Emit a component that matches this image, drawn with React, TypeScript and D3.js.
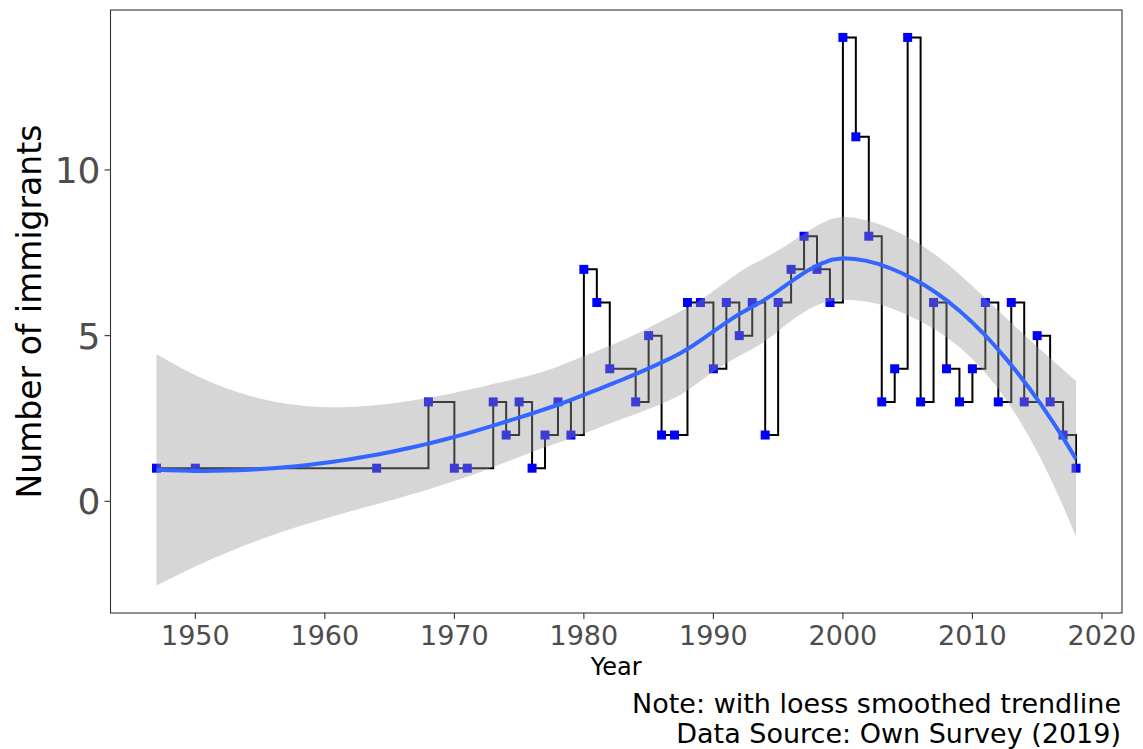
import React from "react";
import * as d3 from "d3";

// Immigration by year of arrival
const years = [
  1947, 1950, 1964, 1968, 1970, 1971, 1973, 1974, 1975, 1976,
  1977, 1978, 1979, 1980, 1981, 1982, 1984, 1985, 1986, 1987,
  1988, 1989, 1990, 1991, 1992, 1993, 1994, 1995, 1996, 1997,
  1998, 1999, 2000, 2001, 2002, 2003, 2004, 2005, 2006, 2007,
  2008, 2009, 2010, 2011, 2012, 2013, 2014, 2015, 2016, 2017,
  2018,
];
const immigrants = [
  1, 1, 1, 3, 1, 1, 3, 2, 3, 1,
  2, 3, 2, 7, 6, 4, 3, 5, 2, 2,
  6, 6, 4, 6, 5, 6, 2, 6, 7, 8,
  7, 6, 14, 11, 8, 3, 4, 14, 3, 6,
  4, 3, 4, 6, 3, 6, 3, 5, 3, 2,
  1,
];
const xTicks = [1950, 1960, 1970, 1980, 1990, 2000, 2010, 2020];
const yTicks = [0, 5, 10];

const W = 1143;
const H = 749;
const panel = { left: 110.5, right: 1122, top: 10, bottom: 613 };

// ---- loess: local quadratic fits (span 0.75, tricube weights) evaluated
// at kd-tree vertices and blended with cubic Hermite interpolation ----
const SPAN = 0.75;
const CELL = 0.2;

function inv3(m: number[][]): number[][] {
  const [a, b, c] = m[0];
  const [d, e, f] = m[1];
  const [g, h, i] = m[2];
  const A = e * i - f * h;
  const B = -(d * i - f * g);
  const C = d * h - e * g;
  const det = a * A + b * B + c * C;
  return [
    [A / det, -(b * i - c * h) / det, (b * f - c * e) / det],
    [B / det, (a * i - c * g) / det, -(a * f - c * d) / det],
    [C / det, -(a * h - b * g) / det, (a * e - b * d) / det],
  ];
}

// operator rows giving the local fit value and its slope at x0
function localRows(xs: number[], x0: number) {
  const n = xs.length;
  const q = Math.floor(n * SPAN);
  const dist = xs.map((x) => Math.abs(x - x0));
  const sorted = [...dist].sort((a, b) => a - b);
  const h = sorted[q - 1] * 1.0000001;
  const w = dist.map((d) => (d < h ? Math.pow(1 - Math.pow(d / h, 3), 3) : 0));
  const u = xs.map((x) => (x - x0) / h);
  const S = [0, 0, 0, 0, 0];
  for (let k = 0; k < n; k++) {
    let p = w[k];
    for (let j = 0; j < 5; j++) {
      S[j] += p;
      p *= u[k];
    }
  }
  const M = inv3([
    [S[0], S[1], S[2]],
    [S[1], S[2], S[3]],
    [S[2], S[3], S[4]],
  ]);
  const value = xs.map((_, k) => w[k] * (M[0][0] + M[0][1] * u[k] + M[0][2] * u[k] * u[k]));
  const slope = xs.map((_, k) => (w[k] * (M[1][0] + M[1][1] * u[k] + M[1][2] * u[k] * u[k])) / h);
  return { value, slope };
}

function kdVertices(xs: number[]): number[] {
  const sorted = [...xs].sort((a, b) => a - b);
  const n = sorted.length;
  const fc = Math.floor(n * SPAN * CELL);
  const lo = sorted[0];
  const hi = sorted[n - 1];
  const mu = 0.005 * (hi - lo);
  const verts = [lo - mu, hi + mu];
  const split = (l: number, u: number, vLo: number, vHi: number) => {
    if (u - l + 1 <= fc) return;
    const m = Math.floor((l + u) / 2);
    const xi = sorted[m];
    if (xi === vLo || xi === vHi) return;
    verts.push(xi);
    split(l, m, vLo, xi);
    split(m + 1, u, xi, vHi);
  };
  split(0, n - 1, lo - mu, hi + mu);
  return verts.sort((a, b) => a - b);
}

function makeOperator(xs: number[]) {
  const verts = kdVertices(xs);
  const rows = verts.map((v) => localRows(xs, v));
  return (x: number): number[] => {
    let i = d3.bisectRight(verts, x) - 1;
    i = Math.max(0, Math.min(verts.length - 2, i));
    const v0 = verts[i];
    const v1 = verts[i + 1];
    const dx = v1 - v0;
    const t = (x - v0) / dx;
    const phi0 = (1 - t) * (1 - t) * (1 + 2 * t);
    const phi1 = t * t * (3 - 2 * t);
    const psi0 = t * (1 - t) * (1 - t);
    const psi1 = -t * t * (1 - t);
    const a = rows[i];
    const b = rows[i + 1];
    return xs.map(
      (_, k) =>
        phi0 * a.value[k] + phi1 * b.value[k] + (psi0 * a.slope[k] + psi1 * b.slope[k]) * dx
    );
  };
}

function tQuantile975(df: number): number {
  const z = 1.959963985;
  const z3 = z ** 3, z5 = z ** 5, z7 = z ** 7, z9 = z ** 9;
  const g1 = (z3 + z) / 4;
  const g2 = (5 * z5 + 16 * z3 + 3 * z) / 96;
  const g3 = (3 * z7 + 19 * z5 + 17 * z3 - 15 * z) / 384;
  const g4 = (79 * z9 + 776 * z7 + 1482 * z5 - 1920 * z3 - 945 * z) / 92160;
  return z + g1 / df + g2 / df ** 2 + g3 / df ** 3 + g4 / df ** 4;
}

function loessBand(xs: number[], ys: number[], nOut = 80) {
  const n = xs.length;
  const op = makeOperator(xs);
  const L = xs.map((x) => op(x));
  const fitted = L.map((row) => d3.sum(row, (l, k) => l * ys[k]));
  const rss = d3.sum(ys, (y, k) => (y - fitted[k]) ** 2);
  // residual operator R = I - L, A = R^T R
  const R = L.map((row, i) => row.map((l, j) => (i === j ? 1 : 0) - l));
  let one = 0;
  let two = 0;
  for (let i = 0; i < n; i++) {
    for (let j = 0; j < n; j++) {
      let s = 0;
      for (let k = 0; k < n; k++) s += R[k][i] * R[k][j];
      if (i === j) one += s;
      two += s * s;
    }
  }
  const s = Math.sqrt(rss / one);
  const tq = tQuantile975((one * one) / two);
  const [lo, hi] = d3.extent(xs) as [number, number];
  return d3.range(nOut).map((i) => {
    const x = lo + ((hi - lo) * i) / (nOut - 1);
    const row = op(x);
    const y = d3.sum(row, (l, k) => l * ys[k]);
    const se = s * Math.sqrt(d3.sum(row, (l) => l * l));
    return { x, y, ymin: y - tq * se, ymax: y + tq * se };
  });
}

export default function App() {
  const band = loessBand(years, immigrants);
  const points = years.map((yr, i) => ({ yr, v: immigrants[i] }));

  const xMin = d3.min(years)!;
  const xMax = d3.max(years)!;
  const xPad = (xMax - xMin) * 0.05;
  const x = d3
    .scaleLinear()
    .domain([xMin - xPad, xMax + xPad])
    .range([panel.left, panel.right]);

  const yLo = Math.min(d3.min(immigrants)!, d3.min(band, (d) => d.ymin)!);
  const yHi = Math.max(d3.max(immigrants)!, d3.max(band, (d) => d.ymax)!);
  const yPad = (yHi - yLo) * 0.05;
  const y = d3
    .scaleLinear()
    .domain([yLo - yPad, yHi + yPad])
    .range([panel.bottom, panel.top]);

  const step = d3
    .line<{ yr: number; v: number }>()
    .x((d) => x(d.yr))
    .y((d) => y(d.v))
    .curve(d3.curveStepAfter);

  const ribbon = d3
    .area<{ x: number; ymin: number; ymax: number }>()
    .x((d) => x(d.x))
    .y0((d) => y(d.ymin))
    .y1((d) => y(d.ymax));

  const trend = d3
    .line<{ x: number; y: number }>()
    .x((d) => x(d.x))
    .y((d) => y(d.y));

  const font = "'DejaVu Sans', sans-serif";
  const sq = 9;

  return (
    <svg
      width={W}
      height={H}
      style={{ position: "absolute", left: 0, top: 0, display: "block", background: "#fff" }}
      fontFamily={font}
    >
      <rect x={0} y={0} width={W} height={H} fill="#fff" />
      <clipPath id="panel-clip">
        <rect
          x={panel.left}
          y={panel.top}
          width={panel.right - panel.left}
          height={panel.bottom - panel.top}
        />
      </clipPath>

      <g clipPath="url(#panel-clip)">
        <path d={step(points) ?? ""} fill="none" stroke="#000" strokeWidth={2} />
        {points.map((p) => (
          <rect
            key={p.yr}
            x={x(p.yr) - sq / 2}
            y={y(p.v) - sq / 2}
            width={sq}
            height={sq}
            fill="#0000FF"
          />
        ))}
        <path d={ribbon(band) ?? ""} fill="#999999" fillOpacity={0.4} stroke="none" />
        <path d={trend(band) ?? ""} fill="none" stroke="#3366FF" strokeWidth={4} />
      </g>

      <rect
        x={panel.left}
        y={panel.top}
        width={panel.right - panel.left}
        height={panel.bottom - panel.top}
        fill="none"
        stroke="#333333"
        strokeWidth={1.1}
      />

      {/* y axis */}
      {yTicks.map((t) => (
        <g key={t}>
          <line x1={panel.left - 6} x2={panel.left} y1={y(t)} y2={y(t)} stroke="#333333" strokeWidth={1.1} />
          <text
            x={panel.left - 10}
            y={y(t)}
            dy="0.36em"
            textAnchor="end"
            fontSize={36}
            fill="#4D4D4D"
          >
            {t}
          </text>
        </g>
      ))}

      {/* x axis */}
      {xTicks.map((t) => (
        <g key={t}>
          <line x1={x(t)} x2={x(t)} y1={panel.bottom} y2={panel.bottom + 6} stroke="#333333" strokeWidth={1.1} />
          <text x={x(t)} y={645} textAnchor="middle" fontSize={27} fill="#4D4D4D">
            {t}
          </text>
        </g>
      ))}

      <text x={(panel.left + panel.right) / 2} y={675} textAnchor="middle" fontSize={24} fill="#000">
        Year
      </text>
      <text
        transform={`translate(41, ${(panel.top + panel.bottom) / 2}) rotate(-90)`}
        textAnchor="middle"
        fontSize={33}
        fill="#000"
      >
        Number of immigrants
      </text>

      <text x={1121} y={713} textAnchor="end" fontSize={27} fill="#000">
        Note: with loess smoothed trendline
      </text>
      <text x={1121} y={743} textAnchor="end" fontSize={27} fill="#000">
        Data Source: Own Survey (2019)
      </text>
    </svg>
  );
}
